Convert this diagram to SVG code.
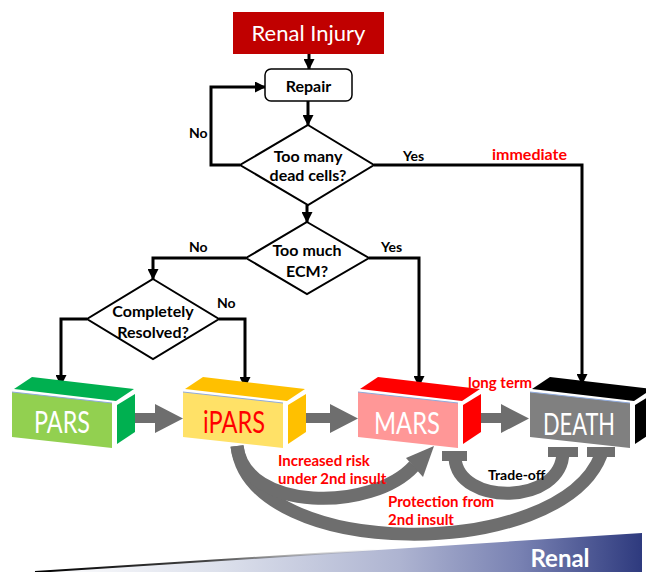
<svg xmlns="http://www.w3.org/2000/svg" width="646" height="572" viewBox="0 0 646 572">
<defs>
<marker id="ah" markerUnits="userSpaceOnUse" markerWidth="11" markerHeight="11" refX="10" refY="5.5" orient="auto">
<path d="M0,0 L11,5.5 L0,11 z" fill="#000"/>
</marker>
<linearGradient id="bg" gradientUnits="userSpaceOnUse" x1="35" y1="0" x2="642" y2="0">
<stop offset="0" stop-color="#FFFFFF"/>
<stop offset="0.3" stop-color="#DDE1EC"/>
<stop offset="0.6" stop-color="#AEB4D1"/>
<stop offset="0.8" stop-color="#7881B2"/>
<stop offset="1" stop-color="#2E3A7E"/>
</linearGradient>
<linearGradient id="edge" gradientUnits="userSpaceOnUse" x1="35" y1="0" x2="380" y2="0">
<stop offset="0" stop-color="#000"/>
<stop offset="0.5" stop-color="#444"/>
<stop offset="1" stop-color="#888" stop-opacity="0"/>
</linearGradient>
</defs>
<style>
.ln{fill:none;stroke:#000;stroke-width:3}
.dm{fill:#fff;stroke:#000;stroke-width:2}
.t{font-family:Lato,"Open Sans","Liberation Sans",sans-serif;font-weight:bold;font-size:16px;fill:#000;text-anchor:middle}
.lb{font-family:Lato,"Open Sans","Liberation Sans",sans-serif;font-weight:bold;font-size:14px;fill:#000}
.red{font-family:Lato,"Open Sans","Liberation Sans",sans-serif;font-weight:bold;font-size:16px;fill:#FF0000}
.rs{font-size:15px}
.bx{font-family:Lato,"Open Sans","Liberation Sans",sans-serif;font-size:31px;text-anchor:middle}
.ga{fill:none;stroke:#6E6E6E;stroke-width:13}
.gf{fill:#6E6E6E}
.hl{stroke:#8FAADC;stroke-width:1;fill:none}
</style>

<g id="banner">
<polygon points="35,572 642,533 642,572" fill="url(#bg)"/>
<line x1="35" y1="572" x2="400" y2="548.5" stroke="url(#edge)" stroke-width="2"/>
<text x="560" y="567" font-family="Lato,'Open Sans','Liberation Sans',sans-serif" font-weight="bold" font-size="24" fill="#fff" text-anchor="middle">Renal</text>
</g>

<g id="connectors">
<line class="ln" x1="309" y1="54" x2="309" y2="69" stroke-width="2" marker-end="url(#ah)"/>
<line class="ln" x1="308" y1="101" x2="308" y2="125" marker-end="url(#ah)"/>
<polyline class="ln" points="240,165 211,165 211,87 265,87" marker-end="url(#ah)"/>
<polyline class="ln" points="374,165 582,165 582,384" marker-end="url(#ah)"/>
<line class="ln" x1="307" y1="205" x2="307" y2="222" marker-end="url(#ah)"/>
<polyline class="ln" points="246,258 153,258 153,279" marker-end="url(#ah)"/>
<polyline class="ln" points="369,258 419,258 419,386" marker-end="url(#ah)"/>
<polyline class="ln" points="87,319 61,319 61,385" marker-end="url(#ah)"/>
<polyline class="ln" points="219,319 245,319 245,387" marker-end="url(#ah)"/>
</g>

<g id="renal-injury">
<rect x="233" y="12" width="151" height="42" fill="#C00000"/>
<text x="308.5" y="41" font-family="Lato,'Open Sans','Liberation Sans',sans-serif" font-size="22" fill="#fff" text-anchor="middle">Renal Injury</text>
</g>

<g id="repair">
<rect x="265" y="69" width="87" height="32" rx="6" fill="#fff" stroke="#000" stroke-width="1.5"/>
<text class="t" x="308.5" y="92" font-size="19">Repair</text>
</g>

<g id="d-dead">
<polygon class="dm" points="308,125 374,165 308,205 240,165"/>
<text class="t" x="308" y="162">Too many</text>
<text class="t" x="308" y="181">dead cells?</text>
</g>

<g id="d-ecm">
<polygon class="dm" points="307,222 369,258 307,294 246,258"/>
<text class="t" x="307" y="256">Too much</text>
<text class="t" x="307" y="277">ECM?</text>
</g>

<g id="d-resolved">
<polygon class="dm" points="153,279 219,319 153,359 87,319"/>
<text class="t" x="153" y="317">Completely</text>
<text class="t" x="153" y="338">Resolved?</text>
</g>

<g id="labels">
<text class="lb" x="189" y="138">No</text>
<text class="lb" x="403" y="161">Yes</text>
<text class="red" x="492" y="160">immediate</text>
<text class="lb" x="189" y="252">No</text>
<text class="lb" x="381" y="252">Yes</text>
<text class="lb" x="217" y="308">No</text>
</g>

<g id="state-arrows">
<polygon class="gf" points="130,413 155,413 155,404 183,418.5 155,433 155,423 130,423"/>
<polygon class="gf" points="302,413 330,413 330,404 358,418.5 330,433 330,423 302,423"/>
<polygon class="gf" points="474,413 501,413 501,404 529,418.5 501,433 501,423 474,423"/>
</g>

<g id="curves">
<path class="ga" d="M237,446 C250,562 560,562 601,455"/>
<path class="ga" d="M237,446 C245,512 372,512 414,466"/>
<polygon class="gf" points="434,446 406,458 423,477"/>
<path class="ga" d="M455,458 C458,506 562,506 563,452"/>
<rect class="gf" x="442" y="451" width="25" height="10"/>
<rect class="gf" x="548" y="447" width="30" height="10"/>
<rect class="gf" x="587" y="447" width="28" height="10"/>
</g>

<g id="pars">
<polygon points="14,389 32,377 134,389 116,401" fill="#00B050"/>
<polygon points="117,405 135,394 135,432 117,444" fill="#00B050"/>
<polygon points="12,392 112,403 112,448 12,437" fill="#92D050"/>
<line class="hl" x1="12" y1="392" x2="112" y2="403"/>
<text class="bx" x="62" y="433" fill="#fff" textLength="56" lengthAdjust="spacingAndGlyphs">PARS</text>
</g>

<g id="ipars">
<polygon points="185,389 203,377 305,389 287,401" fill="#FFC000"/>
<polygon points="288,405 306,394 306,432 288,444" fill="#FFC000"/>
<polygon points="183,392 283,403 283,448 183,437" fill="#FFE167"/>
<line class="hl" x1="183" y1="392" x2="283" y2="403"/>
<text class="bx" x="234" y="433" fill="#FF0000" textLength="62" lengthAdjust="spacingAndGlyphs">iPARS</text>
</g>

<g id="mars">
<polygon points="360,389 378,377 480,389 462,401" fill="#FF0000"/>
<polygon points="463,405 481,394 481,432 463,444" fill="#FF0000"/>
<polygon points="358,392 458,403 458,448 358,437" fill="#FF9797"/>
<line class="hl" x1="358" y1="392" x2="458" y2="403"/>
<text class="bx" x="407" y="434" fill="#fff" textLength="66" lengthAdjust="spacingAndGlyphs">MARS</text>
</g>

<g id="death">
<polygon points="532,389 550,377 652,389 634,401" fill="#000"/>
<polygon points="635,405 653,394 653,432 635,444" fill="#000"/>
<polygon points="530,392 630,403 630,448 530,437" fill="#808080"/>
<line class="hl" x1="530" y1="392" x2="630" y2="403"/>
<text class="bx" x="579" y="435" fill="#fff" textLength="72" lengthAdjust="spacingAndGlyphs">DEATH</text>
</g>

<g id="curve-labels">
<text class="red rs" x="278" y="466">Increased risk</text>
<text class="red rs" x="278" y="484">under 2nd insult</text>
<text class="red rs" x="388" y="507">Protection from</text>
<text class="red rs" x="388" y="525">2nd insult</text>
<text class="lb" x="488" y="480" font-size="11.5">Trade-off</text>
<text class="red rs" x="468" y="388">long term</text>
</g>
</svg>
